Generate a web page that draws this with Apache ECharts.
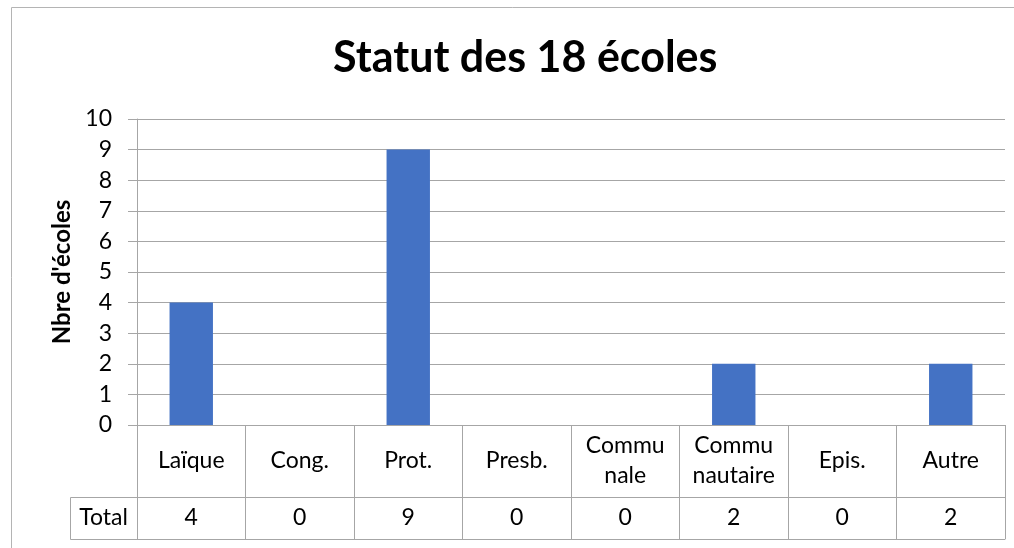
<!DOCTYPE html>
<html>
<head>
<meta charset="utf-8">
<script src="https://cdn.jsdelivr.net/npm/echarts@6/dist/echarts.min.js"></script>
<style>
html, body { margin: 0; padding: 0; background: #fff; }
#main { width: 1014px; height: 548px; }
</style>
</head>
<body>
<div id="main"></div>
<script>
/* données */
var categories = ['Laïque', 'Cong.', 'Prot.', 'Presb.', 'Commu\nnale', 'Commu\nnautaire', 'Epis.', 'Autre'];
var totals = [4, 0, 9, 0, 0, 2, 0, 2];
var rowName = 'Total';
var yTicks = { min: 0, max: 10, interval: 1 };

/* mise en page */
var font = 'Lato';
var fsize = 23;
var line_color = '#a6a6a6';
var grid_left = 137, grid_right = 9, grid_top = 119, grid_bottom = 123;
var head_row = 72, total_row = 42, row_head_w = 67;

var text_style = { fontFamily: font, color: '#000', fontSize: fsize };

var axis_y = 548 - grid_bottom;

var option = {
	animation: false,
	textStyle: text_style,
	title: {
		text: 'Statut des 18 écoles',
		left: 328,
		top: 32,
		textStyle: { fontFamily: font, fontWeight: 'bold', fontSize: 43, color: '#000' }
	},
	grid: { left: grid_left, right: grid_right, top: grid_top, bottom: grid_bottom },
	xAxis: [{
		type: 'category',
		data: categories,
		position: 'bottom',
		axisLine: { show: true, lineStyle: { color: line_color, width: 1 } },
		axisTick: { show: true, interval: 0, alignWithLabel: false, length: head_row + total_row, lineStyle: { color: line_color } },
		axisLabel: { interval: 0, margin: head_row / 2, verticalAlign: 'middle', lineHeight: 30, fontFamily: font, fontSize: fsize, color: '#000' }
	}, {
		type: 'category',
		data: categories,
		position: 'bottom',
		offset: head_row,
		axisLine: { show: true, lineStyle: { color: line_color, width: 1 } },
		axisTick: { show: false },
		axisLabel: {
			interval: 0, margin: total_row / 2, verticalAlign: 'middle', fontFamily: font, fontSize: fsize, color: '#000',
			formatter: function (v, i) { return String(totals[i]); }
		}
	}, {
		type: 'category',
		data: categories,
		position: 'bottom',
		offset: head_row + total_row,
		axisLine: { show: true, lineStyle: { color: line_color, width: 1 } },
		axisTick: { show: false },
		axisLabel: { show: false }
	}],
	yAxis: {
		type: 'value',
		min: yTicks.min,
		max: yTicks.max,
		interval: yTicks.interval,
		name: "Nbre d'écoles",
		nameLocation: 'middle',
		nameGap: 61,
		nameTextStyle: { fontFamily: font, fontWeight: 'bold', fontSize: 24, color: '#000' },
		axisLine: { show: true, lineStyle: { color: line_color } },
		axisTick: { show: true, length: 9, lineStyle: { color: line_color } },
		axisLabel: { margin: 25, fontFamily: font, fontSize: fsize, color: '#000' },
		splitLine: { show: true, lineStyle: { color: line_color } }
	},
	series: [{
		type: 'bar',
		data: totals,
		barWidth: '40%',
		itemStyle: { color: '#4472C4' }
	}],
	graphic: [
		/* cadre */
		{ type: 'line', shape: { x1: 11.5, y1: 7.5, x2: 1014, y2: 7.5 }, style: { stroke: '#b4b4b4', lineWidth: 1 } },
		{ type: 'line', shape: { x1: 11.5, y1: 7.5, x2: 11.5, y2: 548 }, style: { stroke: '#b4b4b4', lineWidth: 1 } },
		/* case Total */
		{
			type: 'rect',
			shape: { x: grid_left - row_head_w + 0.5, y: axis_y + head_row + 0.5, width: row_head_w, height: total_row },
			style: { fill: 'none', stroke: line_color, lineWidth: 1 }
		},
		{
			type: 'text',
			x: grid_left - row_head_w / 2,
			y: axis_y + head_row + total_row / 2,
			style: { text: rowName, fontFamily: font, fontSize: fsize, fill: '#000', align: 'center', verticalAlign: 'middle' }
		}
	]
};

var chart = echarts.init(document.getElementById('main'));
chart.setOption(option);
</script>
</body>
</html>
